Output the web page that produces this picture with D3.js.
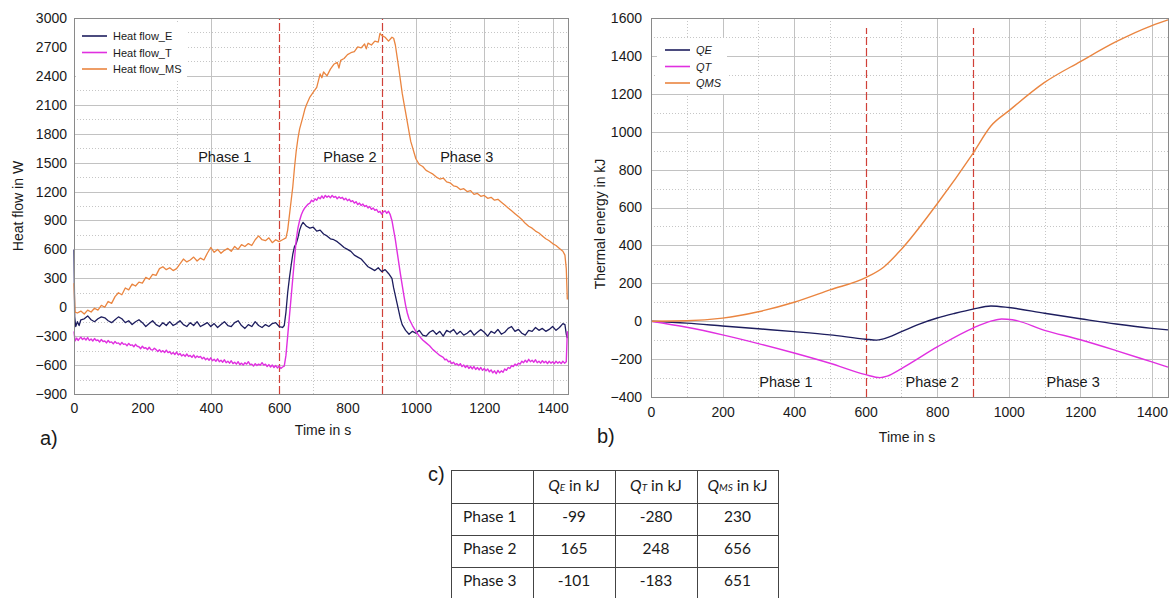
<!DOCTYPE html>
<html>
<head>
<meta charset="utf-8">
<script src="https://cdn.jsdelivr.net/npm/d3@7/dist/d3.min.js"></script>
<style>
  body { margin: 0; background: #fff; }
  svg text { font-family: "Liberation Sans", Arial, sans-serif; fill: #1a1a1a; }
  .tbl text { font-family: Lato, "Open Sans", sans-serif; }
</style>
</head>
<body>
<svg id="fig" width="1173" height="598"></svg>
<script>
// ---- data ----
const xTicks = [0, 200, 400, 600, 800, 1000, 1200, 1400];
const flowTicks = [-900, -600, -300, 0, 300, 600, 900, 1200, 1500, 1800, 2100, 2400, 2700, 3000];
const energyTicks = [-400, -200, 0, 200, 400, 600, 800, 1000, 1200, 1400, 1600];
const phaseBounds = [600, 900];

// grid lines as they appear in each panel
const flowGridX = [400, 1000, 1200, 1400];
const flowGridXDot = [300, 700, 1100, 1300];
const flowGridY = [-600, -300, 0, 300, 600, 900, 1200, 1500, 1800, 2100, 2400];
const flowGridYDot = [-750, -450, -150, 150, 450, 750, 1050, 1350, 1650, 1950, 2250, 2550, 2700, 2850];
const energyGridX = [200, 400, 800, 1000, 1200, 1400];
const energyGridXDot = [100, 300, 500, 700, 1100, 1300];
const energyGridY = [-200, 0, 200, 400, 600, 800, 1000, 1200, 1400];
const energyGridYDot = [-300, -100, 100, 300, 500, 700, 900, 1100, 1300, 1500];

// heat flow in W, [time s, value]
const flowE = [[0,600],[2,-100],[5,-200],[10,-150],[15,-190],[20,-130],[30,-120],[40,-90],[50,-130],[60,-150],[70,-120],[80,-100],[90,-110],[100,-140],[110,-160],[120,-130],[130,-100],[140,-120],[150,-160],[160,-140],[170,-180],[180,-150],[190,-130],[200,-160],[210,-200],[220,-170],[230,-140],[240,-180],[250,-200],[260,-160],[270,-190],[280,-150],[290,-190],[300,-170],[310,-140],[320,-180],[330,-200],[340,-160],[350,-190],[360,-150],[370,-200],[380,-180],[390,-160],[400,-200],[410,-170],[420,-210],[430,-180],[440,-150],[450,-190],[460,-200],[470,-160],[480,-140],[490,-190],[500,-220],[510,-180],[520,-200],[530,-150],[540,-190],[550,-210],[560,-180],[570,-200],[580,-170],[590,-160],[600,-200],[610,-210],[615,-190],[620,-50],[625,150],[630,300],[635,430],[640,550],[645,630],[650,660],[655,720],[660,800],[665,850],[670,880],[675,860],[680,840],[690,820],[700,830],[710,790],[720,800],[730,760],[740,740],[750,710],[760,700],[770,680],[780,650],[790,620],[800,600],[810,580],[820,540],[830,520],[840,500],[850,460],[860,420],[870,400],[880,380],[890,410],[900,370],[910,390],[920,350],[930,300],[935,200],[940,120],[945,40],[950,-40],[955,-120],[960,-180],[970,-240],[980,-280],[990,-250],[1000,-270],[1010,-240],[1020,-290],[1030,-300],[1040,-260],[1050,-240],[1060,-280],[1070,-250],[1080,-300],[1090,-240],[1100,-260],[1110,-230],[1120,-280],[1130,-250],[1140,-290],[1150,-270],[1160,-240],[1170,-290],[1180,-260],[1190,-230],[1200,-260],[1210,-300],[1220,-250],[1230,-270],[1240,-230],[1250,-280],[1260,-260],[1270,-220],[1280,-200],[1290,-250],[1300,-230],[1310,-270],[1320,-290],[1330,-240],[1340,-250],[1350,-210],[1360,-240],[1370,-220],[1380,-250],[1390,-230],[1400,-200],[1410,-240],[1420,-210],[1430,-170],[1436,-180],[1440,-280],[1443,-320]];

const flowT = [[0,-250],[3,-350],[8,-320],[12,-345],[15,-330],[20,-310],[25,-335],[30,-320],[35,-340],[40,-315],[45,-345],[50,-330],[55,-350],[60,-325],[65,-345],[70,-340],[75,-360],[80,-335],[85,-355],[90,-350],[95,-370],[100,-345],[105,-365],[110,-360],[115,-380],[120,-355],[125,-375],[130,-370],[135,-390],[140,-365],[145,-385],[150,-380],[155,-400],[160,-375],[165,-395],[170,-390],[175,-410],[180,-385],[185,-405],[190,-410],[195,-430],[200,-405],[205,-425],[210,-420],[215,-440],[220,-415],[225,-440],[230,-445],[235,-425],[240,-440],[245,-460],[250,-440],[255,-465],[260,-450],[265,-470],[270,-445],[275,-470],[280,-460],[285,-485],[290,-470],[295,-490],[300,-465],[305,-495],[310,-480],[315,-505],[320,-490],[325,-510],[330,-485],[335,-510],[340,-500],[345,-520],[350,-495],[355,-525],[360,-505],[365,-520],[370,-510],[375,-535],[380,-520],[385,-545],[390,-530],[395,-550],[400,-525],[405,-555],[410,-540],[415,-560],[420,-535],[425,-565],[430,-550],[435,-570],[440,-545],[445,-575],[450,-560],[455,-580],[460,-555],[465,-585],[470,-570],[475,-590],[480,-565],[485,-595],[490,-580],[495,-600],[500,-575],[505,-590],[510,-565],[515,-595],[520,-590],[525,-610],[530,-585],[535,-605],[540,-590],[545,-600],[550,-575],[555,-600],[560,-590],[565,-615],[570,-595],[575,-620],[580,-600],[585,-625],[590,-605],[595,-630],[600,-610],[605,-635],[610,-620],[615,-610],[620,-500],[625,-300],[630,-100],[635,100],[640,300],[645,500],[650,700],[655,820],[660,900],[665,960],[670,1000],[675,1030],[680,1050],[685,1070],[690,1080],[695,1110],[700,1095],[705,1125],[710,1110],[715,1140],[720,1125],[725,1155],[730,1130],[735,1160],[740,1140],[745,1155],[750,1135],[755,1160],[760,1140],[765,1150],[770,1125],[775,1145],[780,1130],[785,1140],[790,1115],[795,1130],[800,1105],[805,1120],[810,1095],[815,1105],[820,1080],[825,1095],[830,1065],[835,1080],[840,1055],[845,1070],[850,1045],[855,1055],[860,1030],[865,1045],[870,1015],[875,1030],[880,1005],[885,1015],[890,985],[895,995],[900,965],[905,990],[910,1000],[915,975],[920,995],[925,960],[930,900],[935,800],[940,700],[945,580],[950,460],[955,340],[960,230],[965,120],[970,20],[975,-60],[980,-120],[990,-190],[1000,-250],[1010,-300],[1020,-340],[1030,-370],[1040,-400],[1050,-440],[1060,-470],[1070,-500],[1080,-520],[1085,-545],[1090,-540],[1095,-565],[1100,-560],[1105,-585],[1110,-570],[1115,-595],[1120,-585],[1125,-605],[1130,-585],[1135,-615],[1140,-600],[1145,-625],[1150,-605],[1155,-635],[1160,-615],[1165,-640],[1170,-615],[1175,-645],[1180,-625],[1185,-650],[1190,-625],[1195,-655],[1200,-635],[1205,-660],[1210,-640],[1215,-670],[1220,-650],[1225,-680],[1230,-660],[1235,-690],[1240,-655],[1245,-680],[1250,-660],[1255,-675],[1260,-640],[1265,-655],[1270,-625],[1275,-635],[1280,-605],[1285,-615],[1290,-590],[1295,-605],[1300,-580],[1305,-590],[1310,-560],[1315,-575],[1320,-550],[1325,-570],[1330,-540],[1335,-565],[1340,-550],[1345,-570],[1350,-545],[1355,-575],[1360,-560],[1365,-580],[1370,-555],[1375,-575],[1380,-560],[1385,-585],[1390,-560],[1395,-580],[1400,-565],[1405,-585],[1410,-560],[1415,-580],[1420,-565],[1425,-585],[1430,-560],[1435,-580],[1440,-565],[1443,-250]];

const flowMS = [[0,250],[3,-50],[10,-60],[20,-40],[30,-70],[40,-30],[50,-50],[60,-10],[70,-30],[80,20],[90,0],[100,60],[110,40],[120,110],[130,150],[140,130],[150,200],[160,180],[170,240],[180,220],[190,260],[200,250],[210,310],[220,290],[230,340],[240,330],[250,400],[260,420],[270,390],[280,410],[290,380],[300,400],[310,450],[320,500],[330,470],[340,490],[350,520],[360,480],[370,510],[380,490],[390,560],[400,620],[410,570],[420,600],[430,560],[440,590],[450,610],[460,580],[470,630],[480,600],[490,650],[500,630],[510,660],[520,640],[530,700],[540,740],[550,700],[560,690],[570,720],[580,670],[590,700],[600,680],[610,700],[620,720],[625,800],[630,950],[635,1100],[640,1250],[645,1450],[650,1620],[655,1750],[660,1850],[670,1980],[675,2050],[680,2100],[690,2180],[700,2230],[710,2280],[715,2350],[720,2420],[725,2380],[730,2440],[740,2400],[750,2470],[760,2520],[770,2540],[775,2480],[780,2560],[790,2580],[800,2620],[810,2640],[820,2650],[830,2700],[840,2690],[850,2730],[855,2680],[860,2740],[870,2720],[880,2760],[890,2750],[895,2840],[900,2820],[910,2800],[920,2760],[930,2800],[935,2790],[940,2720],[945,2600],[950,2480],[955,2350],[960,2220],[965,2120],[970,2020],[975,1920],[980,1820],[985,1720],[990,1660],[995,1600],[1000,1540],[1010,1480],[1020,1460],[1030,1420],[1040,1400],[1050,1380],[1060,1350],[1070,1330],[1080,1340],[1090,1300],[1100,1290],[1110,1260],[1120,1250],[1130,1220],[1140,1230],[1150,1200],[1160,1210],[1170,1170],[1180,1180],[1190,1150],[1200,1160],[1210,1130],[1220,1140],[1230,1110],[1240,1120],[1250,1090],[1260,1060],[1270,1030],[1280,1000],[1290,970],[1300,940],[1310,910],[1320,870],[1330,840],[1340,820],[1350,790],[1360,770],[1370,740],[1380,710],[1390,690],[1400,660],[1410,640],[1420,610],[1430,580],[1436,540],[1440,400],[1443,80]];

// thermal energy in kJ, [time s, value]
const energyE = [[0,0],[100,-10],[200,-25],[300,-40],[400,-55],[500,-72],[600,-95],[630,-100],[650,-93],[700,-55],[750,-15],[800,17],[850,42],[900,64],[950,80],[1000,72],[1100,42],[1200,13],[1300,-15],[1400,-38],[1445,-46]];
const energyT = [[0,0],[100,-32],[200,-72],[300,-118],[400,-168],[500,-222],[600,-282],[640,-298],[660,-290],[700,-250],[800,-136],[900,-36],[950,0],[980,12],[1010,8],[1100,-48],[1200,-98],[1300,-155],[1400,-215],[1445,-242]];
const energyMS = [[0,0],[100,2],[200,16],[300,50],[400,100],[500,165],[600,230],[650,285],[700,380],[800,620],[900,886],[950,1030],[1000,1110],[1100,1260],[1200,1370],[1300,1475],[1400,1560],[1445,1590]];

const tableCols = ['', 'E', 'T', 'MS'];
const tableRows = ['Phase 1', 'Phase 2', 'Phase 3'];
const tableVals = [[-99, -280, 230], [165, 248, 656], [-101, -183, 651]];

const colE = '#1d1d5e', colT = '#e030e0', colMS = '#ea8540';

const svg = d3.select('#fig');

function drawPanel(opt) {
  const sx = d3.scaleLinear().domain([0, 1445]).range(opt.xr);
  const sy = d3.scaleLinear().domain(opt.yd).range(opt.yr);
  const g = svg.append('g');
  const px = d => Math.round(sx(d)) + 0.5;
  const py = d => Math.round(sy(d)) + 0.5;

  const hLines = (vals, stroke, dash) => g.append('g').selectAll('line').data(vals).join('line')
    .attr('x1', opt.xr[0]).attr('x2', opt.xr[1])
    .attr('y1', py).attr('y2', py)
    .attr('stroke', stroke).attr('stroke-dasharray', dash);
  const vLines = (vals, stroke, dash) => g.append('g').selectAll('line').data(vals).join('line')
    .attr('y1', opt.yr[0]).attr('y2', opt.yr[1])
    .attr('x1', px).attr('x2', px)
    .attr('stroke', stroke).attr('stroke-dasharray', dash);

  hLines(opt.gridYDot, '#c6c6c6', '1,2');
  vLines(opt.gridXDot, '#c6c6c6', '1,2');
  hLines(opt.gridY, '#c2c2c2', null);
  vLines(opt.gridX, '#c2c2c2', null);

  // legend background
  g.append('rect').attr('x', opt.legend.x).attr('y', opt.legend.y)
    .attr('width', opt.legend.w).attr('height', opt.legend.h).attr('fill', '#fff');

  // phase boundaries
  g.selectAll('.pb').data(phaseBounds).join('line')
    .attr('x1', px).attr('x2', px)
    .attr('y1', opt.yr[0]).attr('y2', opt.dashTop)
    .attr('stroke', '#d04038').attr('stroke-width', 1.2)
    .attr('stroke-dasharray', '8,3');

  const line = d3.line().x(d => sx(d[0])).y(d => sy(d[1])).curve(opt.curve);
  opt.series.forEach(s => {
    g.append('path').datum(s.data).attr('d', line)
      .attr('fill', 'none').attr('stroke', s.color).attr('stroke-width', s.w)
      .attr('stroke-linejoin', 'round');
  });

  // frame
  g.append('rect').attr('x', opt.xr[0] + 0.5).attr('y', opt.yr[1] + 0.5)
    .attr('width', opt.xr[1] - opt.xr[0]).attr('height', opt.yr[0] - opt.yr[1])
    .attr('fill', 'none').attr('stroke', '#8a8a8a');

  // axes
  const ax = g.append('g').attr('transform', `translate(0,${opt.yr[0]})`)
    .call(d3.axisBottom(sx).tickValues(xTicks).tickSize(0).tickPadding(opt.xPad).tickFormat(d3.format('d')));
  const ay = g.append('g').attr('transform', `translate(${opt.xr[0]},0)`)
    .call(d3.axisLeft(sy).tickValues(opt.yTicks).tickSize(0).tickPadding(opt.yPad).tickFormat(d3.format('d')));
  [ax, ay].forEach(a => {
    a.select('.domain').remove();
    a.selectAll('text').attr('font-size', 14).attr('font-family', '"Liberation Sans", Arial, sans-serif').attr('fill', '#1a1a1a');
  });

  // legend entries
  opt.series.forEach((s, i) => {
    const ly = opt.legend.ly + i * opt.legend.dy;
    g.append('line').attr('x1', opt.legend.lx).attr('x2', opt.legend.lx + 25)
      .attr('y1', ly).attr('y2', ly).attr('stroke', s.color).attr('stroke-width', 1.6);
    g.append('text').attr('x', opt.legend.lx + 31).attr('y', ly + 4)
      .attr('font-size', 11).attr('font-style', opt.legend.italic ? 'italic' : 'normal')
      .text(s.name);
  });

  // phase labels
  opt.phases.forEach(p => {
    g.append('text').attr('x', sx(p.t)).attr('y', sy(p.v))
      .attr('text-anchor', 'middle').attr('font-size', 14.5).text(p.text);
  });

  // titles
  g.append('text').attr('x', opt.xTitle[0]).attr('y', opt.xTitle[1])
    .attr('text-anchor', 'middle').attr('font-size', 14).text('Time in s');
  g.append('text').attr('transform', `translate(${opt.yTitle[0]},${opt.yTitle[1]}) rotate(-90)`)
    .attr('text-anchor', 'middle').attr('font-size', 14).text(opt.yLabel);
  g.append('text').attr('x', opt.tag[0]).attr('y', opt.tag[1])
    .attr('font-size', 20).text(opt.tagText);
}

drawPanel({
  xr: [74, 568], yr: [394, 18], yd: [-900, 3000], yTicks: flowTicks,
  gridX: flowGridX, gridXDot: flowGridXDot, gridY: flowGridY, gridYDot: flowGridYDot,
  xPad: 9, yPad: 7, dashTop: 18, curve: d3.curveLinear,
  series: [
    {name: 'Heat flow_E', data: flowE, color: colE, w: 1.3},
    {name: 'Heat flow_T', data: flowT, color: colT, w: 1.4},
    {name: 'Heat flow_MS', data: flowMS, color: colMS, w: 1.3}
  ],
  legend: {x: 76, y: 23, w: 111, h: 57, lx: 82, ly: 36, dy: 16.5, italic: false},
  phases: [{text: 'Phase 1', t: 441, v: 1510}, {text: 'Phase 2', t: 807, v: 1510}, {text: 'Phase 3', t: 1149, v: 1510}],
  xTitle: [323, 435], yTitle: [23, 206], yLabel: 'Heat flow in W',
  tag: [40, 445], tagText: 'a)'
});

drawPanel({
  xr: [651, 1168], yr: [397, 18], yd: [-400, 1600], yTicks: energyTicks,
  gridX: energyGridX, gridXDot: energyGridXDot, gridY: energyGridY, gridYDot: energyGridYDot,
  xPad: 10, yPad: 9, dashTop: 28, curve: d3.curveMonotoneX,
  series: [
    {name: 'QE', data: energyE, color: colE, w: 1.4},
    {name: 'QT', data: energyT, color: colT, w: 1.4},
    {name: 'QMS', data: energyMS, color: colMS, w: 1.4}
  ],
  legend: {x: 657, y: 38, w: 70, h: 56, lx: 665, ly: 50, dy: 16.5, italic: true},
  phases: [{text: 'Phase 1', t: 377, v: -347}, {text: 'Phase 2', t: 786, v: -347}, {text: 'Phase 3', t: 1180, v: -347}],
  xTitle: [907, 442], yTitle: [605, 224], yLabel: 'Thermal energy in kJ',
  tag: [597, 443], tagText: 'b)'
});

// ---- table c) ----
const colX = [451, 533, 615, 697, 778];
const rowY = [470, 503, 535, 567, 598];
const tg = svg.append('g').attr('class', 'tbl');
svg.append('text').attr('x', 428).attr('y', 481).attr('font-size', 20).text('c)');
colX.forEach(x => tg.append('line').attr('x1', x + 0.5).attr('x2', x + 0.5)
  .attr('y1', rowY[0]).attr('y2', rowY[4]).attr('stroke', '#444'));
rowY.forEach(y => tg.append('line').attr('y1', y + 0.5).attr('y2', y + 0.5)
  .attr('x1', colX[0]).attr('x2', colX[4]).attr('stroke', '#444'));

tableCols.forEach((c, i) => {
  if (!c) return;
  const t = tg.append('text').attr('x', (colX[i] + colX[i + 1]) / 2).attr('y', rowY[0] + 21)
    .attr('text-anchor', 'middle').attr('font-size', 15.5);
  t.append('tspan').attr('font-style', 'italic').text('Q');
  t.append('tspan').attr('font-style', 'italic').attr('font-size', 10).text(c);
  t.append('tspan').text(' in kJ');
});
tableRows.forEach((r, j) => {
  const y = rowY[j + 1] + 19;
  tg.append('text').attr('x', colX[0] + 12).attr('y', y).attr('font-size', 15.5).text(r);
  tableVals[j].forEach((v, k) => {
    tg.append('text').attr('x', (colX[k + 1] + colX[k + 2]) / 2).attr('y', y)
      .attr('text-anchor', 'middle').attr('font-size', 15.5).text(v);
  });
});
</script>
</body>
</html>
